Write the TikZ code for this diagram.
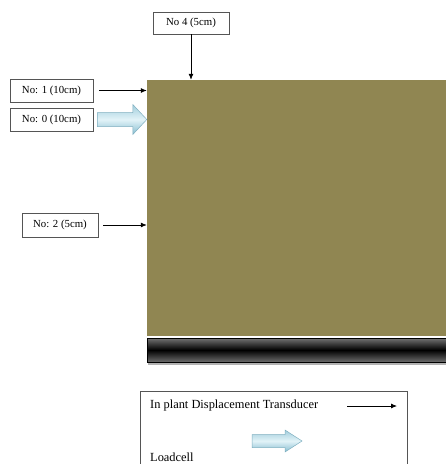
\documentclass[tikz,border=0pt]{standalone}
\usepackage{fontspec}
\setmainfont{Liberation Serif}
\usetikzlibrary{arrows.meta,calc}
\definecolor{soil}{HTML}{908652}
\definecolor{boxline}{HTML}{555555}
\definecolor{fatA}{HTML}{E2F3F8}
\definecolor{fatB}{HTML}{86BDD0}
\definecolor{fatLine}{HTML}{7FAFC0}
\tikzset{
  lbl/.style={draw=boxline, line width=0.6pt, fill=white, inner sep=0pt, font=\fontsize{10.8}{12}\selectfont},
  thin arrow/.style={line width=0.8pt, -{Latex[length=6pt,width=5pt]}},
  fat arrow/.style={draw=fatLine, line width=0.5pt, top color=fatB!70!fatA, bottom color=fatB, middle color=fatA},
  legtext/.style={anchor=west, inner sep=0pt, font=\fontsize{12.4}{14}\selectfont}
}
\begin{document}
\begin{tikzpicture}[x=1pt,y=-1pt]
\useasboundingbox (0,0) rectangle (446,464);
% main soil block
\node[fill=soil, minimum width=299pt, minimum height=256pt, inner sep=0pt] (soil) at (296.5,208) {};
% base bar
\fill[gray!60] (148,362) rectangle (446,364.5);
\node[draw=black, line width=0.6pt, inner sep=0pt, minimum width=299pt, minimum height=24pt,
      shading=axis, top color=gray!90!black, bottom color=gray!85!black, middle color=black] (bar) at (296.5,350) {};
% labels
\node[lbl, minimum width=76pt, minimum height=22pt] (n4) at (191,23) {No 4 (5cm)};
\node[lbl, minimum width=83pt, minimum height=23pt] (n1) at (51.5,90.5) {No: 1 (10cm)};
\node[lbl, minimum width=83pt, minimum height=23pt] (n0) at (51.5,119.5) {No: 0 (10cm)};
\node[lbl, minimum width=76pt, minimum height=24pt] (n2) at (60,225) {No: 2 (5cm)};
% thin arrows
\draw[thin arrow] (n4.south) -- (n4.south |- soil.north);
\draw[thin arrow] ($(n1.east)+(6,0)$) -- (n1.east -| soil.west);
\draw[thin arrow] ($(n2.east)+(5,0)$) -- (n2.east -| soil.west);
% fat arrow No:0
\coordinate (f0s) at ($(n0.east)+(4,0)$);
\coordinate (f0t) at (n0.east -| soil.west);
\path[fat arrow] ($(f0s)+(0,-7)$) -- ($(f0t)+(-14,-7)$) -- ($(f0t)+(-14,-15)$) -- (f0t)
  -- ($(f0t)+(-14,15)$) -- ($(f0t)+(-14,7)$) -- ($(f0s)+(0,7)$) -- cycle;
% legend
\draw[boxline, line width=0.6pt] (140,470) -- (140,391) -- (407,391) -- (407,470);
\node[legtext] (lt) at (150,406) {In plant Displacement Transducer};
\coordinate (la) at (347,406);
\coordinate (lb) at (397,406);
\draw[thin arrow] (la) -- (lb);
\node[legtext] (ll) at (150,457) {Loadcell};
\coordinate (fls) at (252,441);
\coordinate (flt) at (302,441);
\path[fat arrow] ($(fls)+(0,-6.5)$) -- ($(flt)+(-17,-6.5)$) -- ($(flt)+(-17,-11)$) -- (flt)
  -- ($(flt)+(-17,11)$) -- ($(flt)+(-17,6.5)$) -- ($(fls)+(0,6.5)$) -- cycle;
\end{tikzpicture}
\end{document}
